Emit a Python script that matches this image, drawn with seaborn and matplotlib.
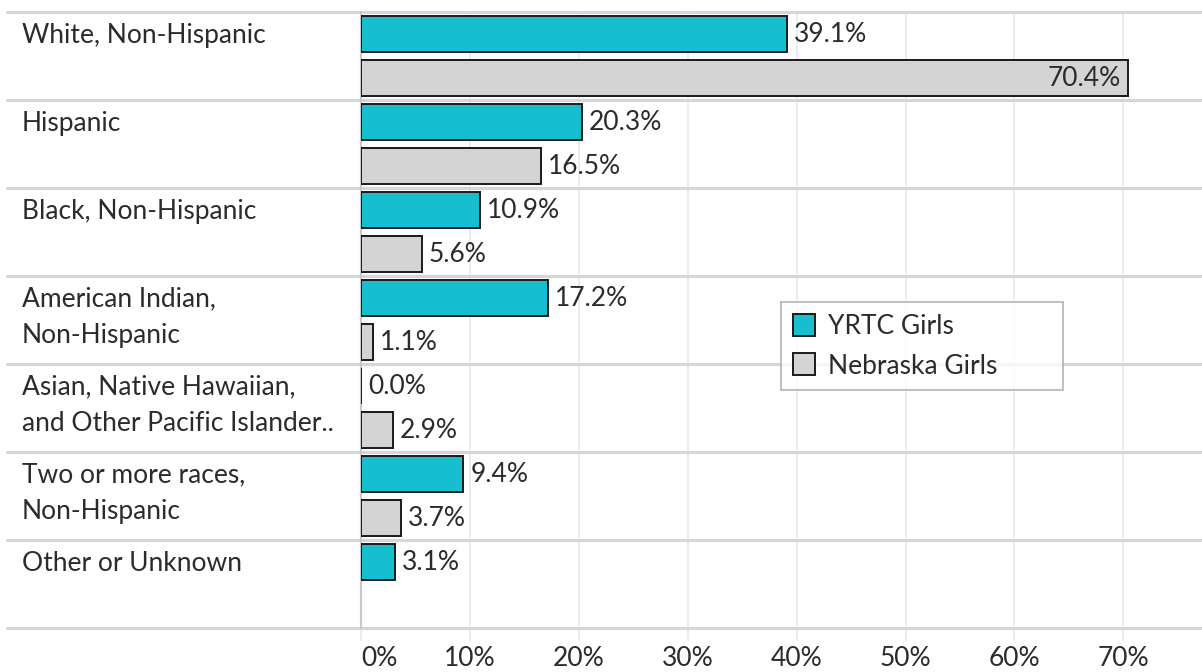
import numpy as np
import pandas as pd
import matplotlib
matplotlib.use("Agg")
import matplotlib.pyplot as plt
import matplotlib.transforms as mtransforms
from matplotlib.patches import Patch
import seaborn as sns

# ---------------------------------------------------------------
# Data
# ---------------------------------------------------------------
categories = [
    "White, Non-Hispanic",
    "Hispanic",
    "Black, Non-Hispanic",
    "American Indian,\nNon-Hispanic",
    "Asian, Native Hawaiian,\nand Other Pacific Islander..",
    "Two or more races,\nNon-Hispanic",
    "Other or Unknown",
]
groups = ["YRTC Girls", "Nebraska Girls"]
yrtc_values = [39.1, 20.3, 10.9, 17.2, 0.0, 9.4, 3.1]
nebraska_values = [70.4, 16.5, 5.6, 1.1, 2.9, 3.7, np.nan]
x_ticks = [0, 10, 20, 30, 40, 50, 60, 70]

colors = {"YRTC Girls": "#17becf", "Nebraska Girls": "#d4d4d4"}
TEXT = "#2b2b2b"
SEP = "#d6d6d6"
GRID = "#ececec"

df = pd.DataFrame({
    "category": categories * 2,
    "group": [groups[0]] * len(categories) + [groups[1]] * len(categories),
    "value": yrtc_values + nebraska_values,
})

# ---------------------------------------------------------------
# Figure
# ---------------------------------------------------------------
sns.set_theme(style="white")
plt.rcParams["font.family"] = ["Lato", "DejaVu Sans"]
plt.rcParams["font.size"] = 19

W, H = 1202, 672
fig = plt.figure(figsize=(W / 100, H / 100), dpi=100)
ax_left, ax_right, ax_top, ax_bottom = 361, 1202, 12, 628
ax = fig.add_axes([ax_left / W, 1 - ax_bottom / H,
                   (ax_right - ax_left) / W, (ax_bottom - ax_top) / H])

sns.barplot(data=df, y="category", x="value", hue="group",
            hue_order=groups, order=categories, palette=colors,
            saturation=1, orient="h", width=1.0, gap=0.2, edgecolor="#1a1a1a",
            linewidth=1.4, legend=False, ax=ax, zorder=3)

ax.set_xlim(0, (ax_right - ax_left) / 10.89)
ax.set_ylim(len(categories) - 0.5, -0.5)

# vertical gridlines
for t in x_ticks[1:]:
    ax.axvline(t, color=GRID, lw=1.3, zorder=0)

ax.set_xticks(x_ticks)
ax.set_xticklabels([f"{t}%" for t in x_ticks], color=TEXT, fontsize=19)
ax.get_xticklabels()[0].set_horizontalalignment("left")
ax.tick_params(axis="x", length=9, width=1.3, color=GRID, pad=4, bottom=True)
ax.set_yticks([])
ax.set_xlabel("")
ax.set_ylabel("")

for s in ["top", "right", "bottom"]:
    ax.spines[s].set_visible(False)
ax.spines["left"].set_color("#c9c9c9")
ax.spines["left"].set_linewidth(1.6)

# row separators spanning into the label area
blend = mtransforms.blended_transform_factory(ax.transAxes, ax.transData)
x0 = (7 - ax_left) / (ax_right - ax_left)
for b in np.arange(-0.5, len(categories), 1.0):
    ax.plot([x0, 1], [b, b], color=SEP, lw=2.2, transform=blend,
            clip_on=False, zorder=1)

# category labels
xl = (22 - ax_left) / (ax_right - ax_left)
for i, cat in enumerate(categories):
    ax.text(xl, i - 0.5 + 0.12, cat, transform=blend, ha="left", va="top",
            color=TEXT, fontsize=19, linespacing=1.55)

# value labels
xmax = ax.get_xlim()[1]
for container in ax.containers:
    for bar in container:
        w = bar.get_width()
        if np.isnan(w):
            continue
        yc = bar.get_y() + bar.get_height() / 2
        label = f"{w:.1f}%"
        if w > xmax - 8:
            ax.annotate(label, (w, yc), xytext=(-7, 0), textcoords="offset pixels",
                        ha="right", va="center", color=TEXT, fontsize=19, zorder=5)
        else:
            ax.annotate(label, (w, yc), xytext=(7, 0), textcoords="offset pixels",
                        ha="left", va="center", color=TEXT, fontsize=19, zorder=5)

# legend
handles = [Patch(facecolor=colors[g], edgecolor="#1a1a1a", linewidth=1.4, label=g)
           for g in groups]
lx = (781 - ax_left) / (ax_right - ax_left)
ly = 1 - (302 - ax_top) / (ax_bottom - ax_top)
lw = (1063 - 781) / (ax_right - ax_left)
leg = ax.legend(handles=handles, loc="upper left", bbox_to_anchor=(lx, ly - 0.2, lw, 0.2),
                mode="expand", borderaxespad=0, frameon=True, fancybox=False,
                handlelength=0.85, handleheight=0.9, handletextpad=0.5,
                labelspacing=0.55, borderpad=0.45, fontsize=19)
leg.get_frame().set_edgecolor("#a8a8a8")
leg.get_frame().set_linewidth(1.3)
for t in leg.get_texts():
    t.set_color(TEXT)
leg.set_zorder(6)

fig.savefig("out.png", dpi=100)
